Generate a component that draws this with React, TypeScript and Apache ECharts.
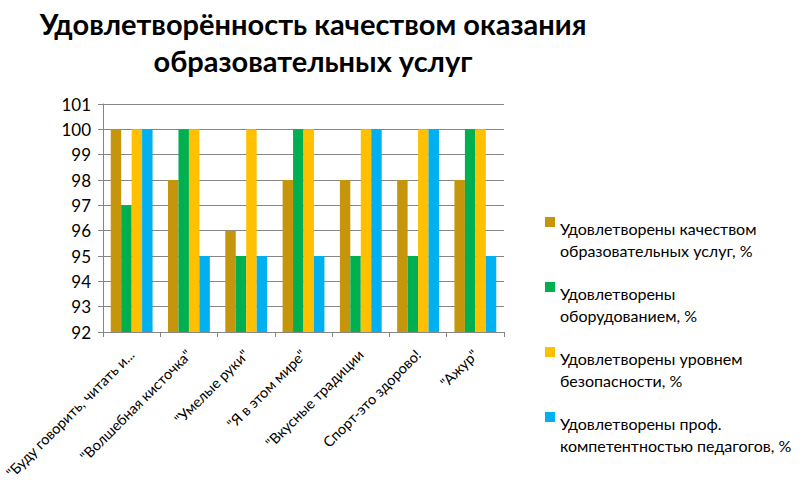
import React, { useEffect, useRef } from "react";
import * as echarts from "echarts";

const categories = [
  '"Буду говорить, читать и...',
  '"Волшебная кисточка"',
  '"Умелые руки"',
  '"Я в этом мире"',
  '"Вкусные традиции',
  "Спорт-это здорово!",
  '"Ажур"',
];

const seriesNames = [
  "Удовлетворены качеством\nобразовательных услуг, %",
  "Удовлетворены\nоборудованием, %",
  "Удовлетворены уровнем\nбезопасности, %",
  "Удовлетворены проф.\nкомпетентностью педагогов, %",
];

const qualityValues = [100, 98, 96, 98, 98, 98, 98];
const equipmentValues = [97, 100, 95, 100, 95, 95, 100];
const safetyValues = [100, 100, 100, 100, 100, 100, 100];
const teacherValues = [100, 95, 95, 95, 100, 100, 95];

const seriesColors = ["#C5960C", "#00B050", "#FFC000", "#00B0F0"];

const FONT = "Lato, 'Open Sans', sans-serif";

// Square marker aligned with the first line of a two-line legend entry
const LEGEND_ICON = "path://M0 0H10V10H0Z M0 43.99H0.01V44H0Z";

export default function App() {
  const ref = useRef<HTMLDivElement>(null);

  useEffect(() => {
    if (!ref.current) return;
    const chart = echarts.init(ref.current, undefined, { renderer: "svg" });
    const values = [qualityValues, equipmentValues, safetyValues, teacherValues];
    chart.setOption({
      animation: false,
      backgroundColor: "#ffffff",
      title: {
        text: "Удовлетворённость качеством оказания\nобразовательных услуг",
        left: 308,
        textAlign: "center",
        top: 0,
        textStyle: {
          fontFamily: FONT,
          fontWeight: "bold",
          fontSize: 29,
          lineHeight: 37,
          color: "#000000",
        },
      },
      legend: {
        orient: "vertical",
        left: 540,
        top: 212,
        itemWidth: 10,
        itemHeight: 44,
        itemGap: 21,
        icon: LEGEND_ICON,
        textStyle: {
          fontFamily: FONT,
          fontSize: 16,
          lineHeight: 22,
          color: "#000000",
        },
      },
      grid: { left: 103, right: 298, top: 104, bottom: 161, outerBoundsMode: "none" },
      xAxis: {
        type: "category",
        data: categories,
        axisLine: { lineStyle: { color: "#868686" } },
        axisTick: { show: true, alignWithLabel: false, length: 5, lineStyle: { color: "#868686" } },
        axisLabel: {
          rotate: 45,
          interval: 0,
          fontFamily: FONT,
          fontSize: 14.5,
          color: "#000000",
          margin: 20,
        },
      },
      yAxis: {
        type: "value",
        min: 92,
        max: 101,
        interval: 1,
        axisLine: { show: true, lineStyle: { color: "#868686" } },
        axisTick: { show: true, length: 5, lineStyle: { color: "#868686" } },
        splitLine: { lineStyle: { color: "#868686" } },
        axisLabel: {
          fontFamily: FONT,
          fontSize: 17,
          color: "#000000",
          margin: 12,
        },
      },
      series: seriesNames.map((name, i) => ({
        name,
        type: "bar",
        data: values[i],
        barGap: "0%",
        barCategoryGap: "27%",
        itemStyle: { color: seriesColors[i] },
      })),
    });
    return () => chart.dispose();
  }, []);

  return (
    <div
      ref={ref}
      style={{ position: "absolute", left: 0, top: 0, width: 802, height: 493 }}
    />
  );
}
